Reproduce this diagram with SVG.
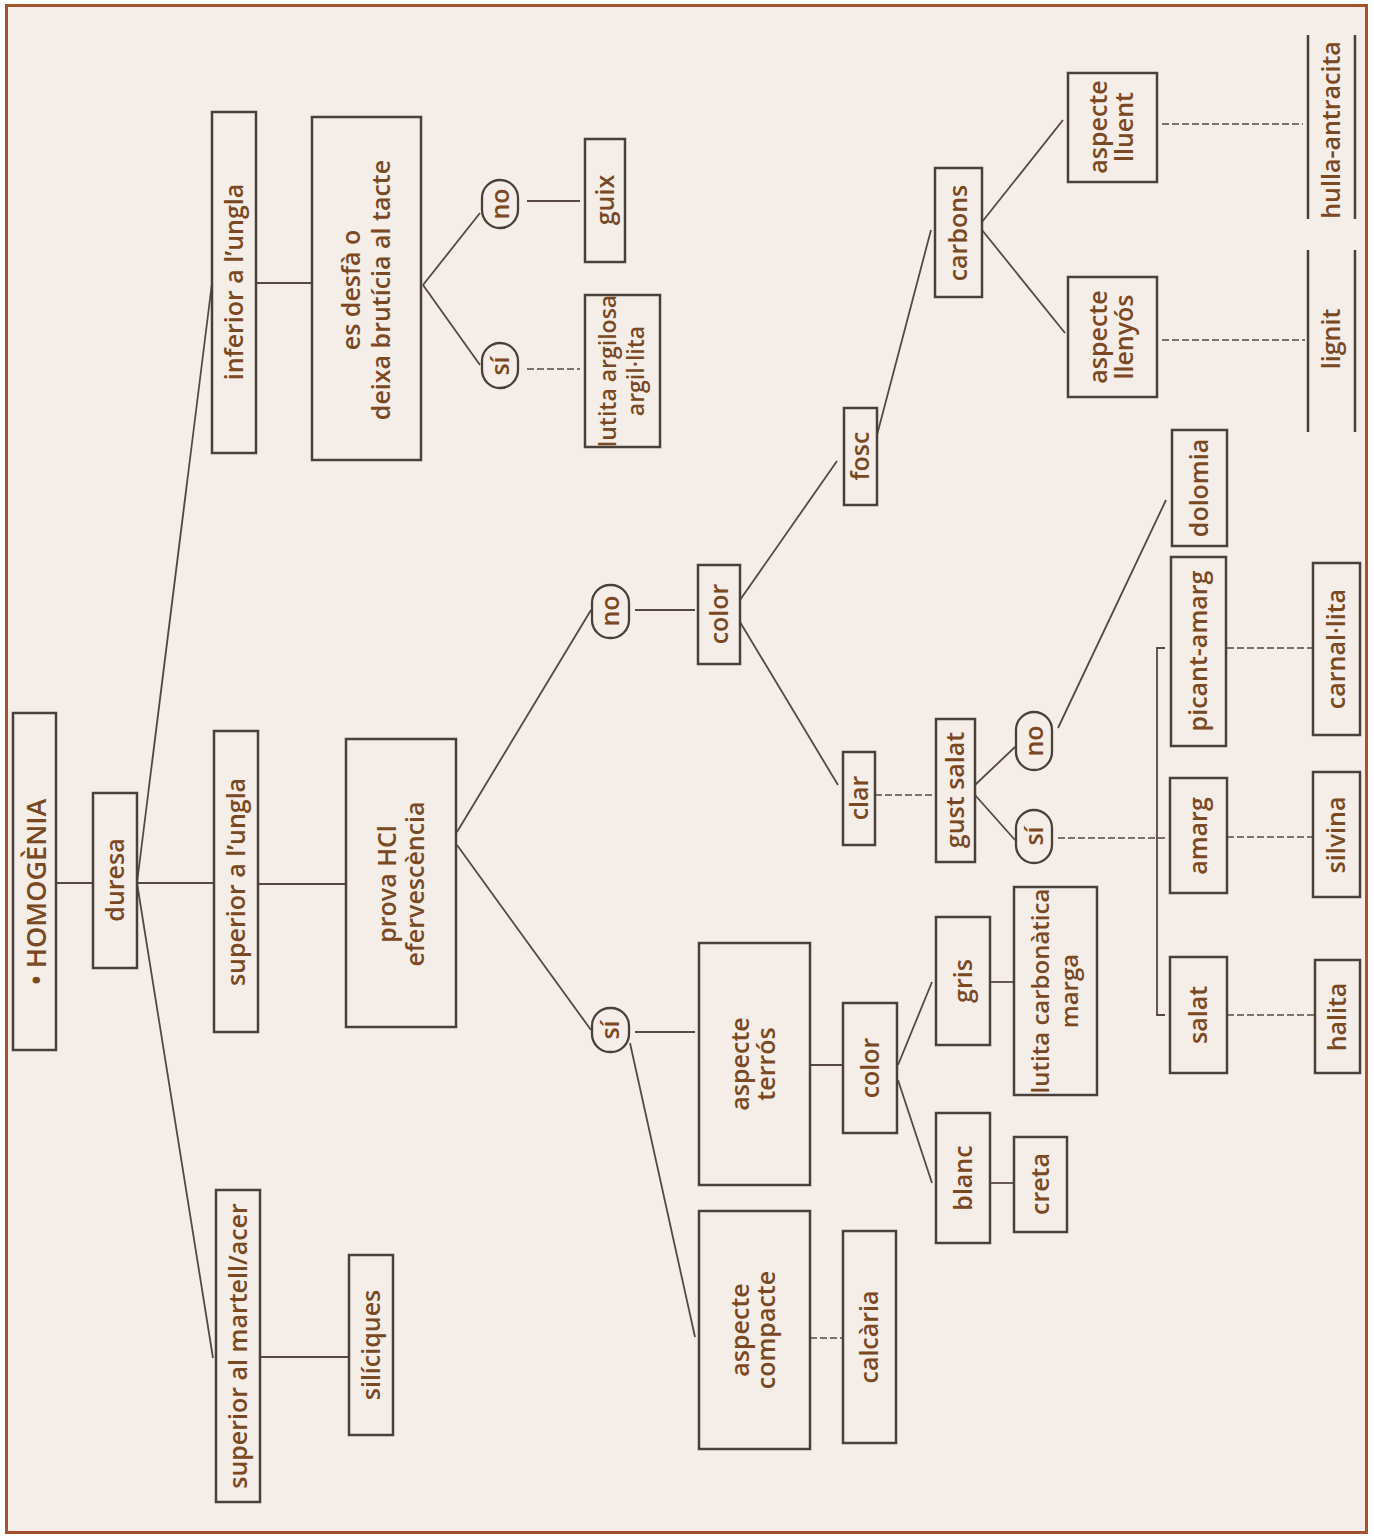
<svg xmlns="http://www.w3.org/2000/svg" width="1374" height="1538" viewBox="0 0 1374 1538">
<style>
.box{fill:none;stroke:#4a403a;stroke-width:2.5}
.oval{fill:none;stroke:#4a403a;stroke-width:2.3}
.t{font-family:"Open Sans","Liberation Sans",sans-serif;font-size:25px;font-weight:600;fill:#7a4822;text-anchor:middle}
.c{fill:none;stroke:#564840;stroke-width:1.8}
.d{fill:none;stroke:#564840;stroke-width:1.6;stroke-dasharray:7 3}
</style>
<rect x="0" y="0" width="1374" height="1538" fill="#ffffff"/>
<rect x="6.5" y="5.5" width="1360" height="1527" fill="#f5ede8" stroke="#a4522b" stroke-width="3"/>

<g id="connectors">
<path class="c" d="M56 883H93"/>
<path class="c" d="M137 883H214"/>
<path class="c" d="M258 884H346"/>
<path class="c" d="M137 883L212 283"/>
<path class="c" d="M137 883L213 1358"/>
<path class="c" d="M256 283H312"/>
<path class="c" d="M423 285L480 213"/>
<path class="c" d="M423 285L480 365"/>
<path class="c" d="M527 201H580"/>
<path class="d" d="M527 369H580"/>
<path class="c" d="M260 1357H349"/>
<path class="c" d="M457 832L591 610"/>
<path class="c" d="M457 845L591 1030"/>
<path class="c" d="M635 610H695"/>
<path class="c" d="M635 1032H695"/>
<path class="c" d="M630 1043L695 1337"/>
<path class="d" d="M810 1338H843"/>
<path class="c" d="M810 1065H843"/>
<path class="c" d="M898 1065L932 982"/>
<path class="c" d="M898 1080L932 1183"/>
<path class="c" d="M990 982H1014"/>
<path class="c" d="M990 1183H1014"/>
<path class="c" d="M740 600L837 461"/>
<path class="c" d="M740 622L838 785"/>
<path class="d" d="M875 795H936"/>
<path class="c" d="M975 785L1015 747"/>
<path class="c" d="M975 795L1015 840"/>
<path class="c" d="M1058 728L1166 500"/>
<path class="d" d="M1058 838H1167"/>
<path class="c" d="M1165 648H1157V1015H1165"/>
<path class="d" d="M1227 648H1313"/>
<path class="d" d="M1227 837H1313"/>
<path class="d" d="M1227 1015H1315"/>
<path class="c" d="M877 435L931 230"/>
<path class="c" d="M982 222L1063 120"/>
<path class="c" d="M982 230L1065 333"/>
<path class="d" d="M1162 124H1303"/>
<path class="d" d="M1162 340H1305"/>
</g>

<g id="homogenia"><rect class="box" x="13" y="713" width="43" height="337"/><text class="t" style="font-size:27px" transform="translate(37 892) rotate(-90)" dy="0.35em">• HOMOGÈNIA</text></g>
<g id="duresa"><rect class="box" x="93" y="793" width="44" height="175"/><text class="t" transform="translate(115 880) rotate(-90)" dy="0.35em">duresa</text></g>
<g id="superior-ungla"><rect class="box" x="214" y="731" width="44" height="301"/><text class="t" transform="translate(236 882) rotate(-90)" dy="0.35em">superior a l’ungla</text></g>
<g id="prova-hcl"><rect class="box" x="346" y="739" width="110" height="288"/><text class="t" transform="translate(401 884) rotate(-90)"><tspan x="0" dy="-0.22em">prova HCl</tspan><tspan x="0" dy="1.12em">efervescència</tspan></text></g>
<g id="inferior-ungla"><rect class="box" x="212" y="112" width="44" height="341"/><text class="t" transform="translate(234 282) rotate(-90)" dy="0.35em">inferior a l’ungla</text></g>
<g id="es-desfa"><rect class="box" x="312" y="117" width="109" height="343"/><text class="t" transform="translate(366 290) rotate(-90)"><tspan x="0" dy="-0.25em">es desfà o</tspan><tspan x="0" dy="1.2em">deixa brutícia al tacte</tspan></text></g>
<g id="si-1"><rect class="oval" x="482" y="343" width="36" height="45" rx="18" ry="18"/><text class="t" transform="translate(500 366) rotate(-90)" dy="0.35em">sí</text></g>
<g id="no-1"><rect class="oval" x="482" y="180" width="36" height="48" rx="18" ry="18"/><text class="t" transform="translate(500 204) rotate(-90)" dy="0.35em">no</text></g>
<g id="guix"><rect class="box" x="585" y="139" width="40" height="123"/><text class="t" transform="translate(605 200) rotate(-90)" dy="0.35em">guix</text></g>
<g id="lutita-argilosa"><rect class="box" x="585" y="295" width="75" height="152"/><text class="t" style="font-size:23px" transform="translate(622 371) rotate(-90)"><tspan x="0" dy="-0.25em">lutita argilosa</tspan><tspan x="0" dy="1.2em">argil·lita</tspan></text></g>
<g id="superior-martell"><rect class="box" x="216" y="1190" width="44" height="312"/><text class="t" transform="translate(238 1346) rotate(-90)" dy="0.35em">superior al martell/acer</text></g>
<g id="siliciques"><rect class="box" x="349" y="1255" width="44" height="180"/><text class="t" transform="translate(371 1345) rotate(-90)" dy="0.35em">silíciques</text></g>
<g id="si-2"><rect class="oval" x="592" y="1008" width="37" height="44" rx="18" ry="18"/><text class="t" transform="translate(610 1030) rotate(-90)" dy="0.35em">sí</text></g>
<g id="no-2"><rect class="oval" x="592" y="585" width="37" height="53" rx="18" ry="18"/><text class="t" transform="translate(610 611) rotate(-90)" dy="0.35em">no</text></g>
<g id="color-1"><rect class="box" x="698" y="565" width="42" height="99"/><text class="t" transform="translate(719 614) rotate(-90)" dy="0.35em">color</text></g>
<g id="aspecte-terros"><rect class="box" x="699" y="943" width="111" height="242"/><text class="t" transform="translate(754 1064) rotate(-90)"><tspan x="0" dy="-0.2em">aspecte</tspan><tspan x="0" dy="1.05em">terrós</tspan></text></g>
<g id="aspecte-compacte"><rect class="box" x="699" y="1211" width="111" height="238"/><text class="t" transform="translate(754 1330) rotate(-90)"><tspan x="0" dy="-0.2em">aspecte</tspan><tspan x="0" dy="1.05em">compacte</tspan></text></g>
<g id="calcaria"><rect class="box" x="843" y="1231" width="53" height="212"/><text class="t" transform="translate(869 1337) rotate(-90)" dy="0.35em">calcària</text></g>
<g id="color-2"><rect class="box" x="843" y="1003" width="54" height="130"/><text class="t" transform="translate(870 1068) rotate(-90)" dy="0.35em">color</text></g>
<g id="gris"><rect class="box" x="936" y="917" width="54" height="128"/><text class="t" transform="translate(963 981) rotate(-90)" dy="0.35em">gris</text></g>
<g id="blanc"><rect class="box" x="936" y="1113" width="54" height="130"/><text class="t" transform="translate(963 1178) rotate(-90)" dy="0.35em">blanc</text></g>
<g id="lutita-carbonatica"><rect class="box" x="1014" y="887" width="83" height="208"/><text class="t" style="font-size:24px" transform="translate(1055 991) rotate(-90)"><tspan x="0" dy="-0.25em">lutita carbonàtica</tspan><tspan x="0" dy="1.2em">marga</tspan></text></g>
<g id="creta"><rect class="box" x="1014" y="1137" width="53" height="95"/><text class="t" transform="translate(1040 1184) rotate(-90)" dy="0.35em">creta</text></g>
<g id="fosc"><rect class="box" x="844" y="408" width="33" height="97"/><text class="t" transform="translate(860 456) rotate(-90)" dy="0.35em">fosc</text></g>
<g id="clar"><rect class="box" x="843" y="752" width="32" height="93"/><text class="t" transform="translate(859 798) rotate(-90)" dy="0.35em">clar</text></g>
<g id="gust-salat"><rect class="box" x="936" y="719" width="39" height="143"/><text class="t" transform="translate(955 790) rotate(-90)" dy="0.35em">gust salat</text></g>
<g id="no-3"><rect class="oval" x="1016" y="712" width="36" height="58" rx="18" ry="18"/><text class="t" transform="translate(1034 741) rotate(-90)" dy="0.35em">no</text></g>
<g id="si-3"><rect class="oval" x="1016" y="810" width="36" height="53" rx="18" ry="18"/><text class="t" transform="translate(1034 836) rotate(-90)" dy="0.35em">sí</text></g>
<g id="dolomia"><rect class="box" x="1172" y="430" width="55" height="116"/><text class="t" transform="translate(1199 488) rotate(-90)" dy="0.35em">dolomia</text></g>
<g id="picant-amarg"><rect class="box" x="1171" y="557" width="55" height="189"/><text class="t" transform="translate(1198 651) rotate(-90)" dy="0.35em">picant-amarg</text></g>
<g id="amarg"><rect class="box" x="1170" y="778" width="57" height="115"/><text class="t" transform="translate(1198 836) rotate(-90)" dy="0.35em">amarg</text></g>
<g id="salat"><rect class="box" x="1170" y="957" width="57" height="116"/><text class="t" transform="translate(1198 1015) rotate(-90)" dy="0.35em">salat</text></g>
<g id="carnallita"><rect class="box" x="1313" y="563" width="47" height="172"/><text class="t" transform="translate(1336 649) rotate(-90)" dy="0.35em">carnal·lita</text></g>
<g id="silvina"><rect class="box" x="1313" y="772" width="47" height="125"/><text class="t" transform="translate(1336 835) rotate(-90)" dy="0.35em">silvina</text></g>
<g id="halita"><rect class="box" x="1315" y="960" width="45" height="113"/><text class="t" transform="translate(1337 1017) rotate(-90)" dy="0.35em">halita</text></g>
<g id="carbons"><rect class="box" x="935" y="168" width="47" height="129"/><text class="t" transform="translate(958 233) rotate(-90)" dy="0.35em">carbons</text></g>
<g id="aspecte-lluent"><rect class="box" x="1068" y="73" width="89" height="109"/><text class="t" transform="translate(1112 127) rotate(-90)"><tspan x="0" dy="-0.2em">aspecte</tspan><tspan x="0" dy="1.05em">lluent</tspan></text></g>
<g id="aspecte-llenyos"><rect class="box" x="1068" y="277" width="89" height="120"/><text class="t" transform="translate(1112 337) rotate(-90)"><tspan x="0" dy="-0.2em">aspecte</tspan><tspan x="0" dy="1.05em">llenyós</tspan></text></g>
<g id="hulla-antracita"><path class="box" d="M1308 35V219M1355 35V219"/><text class="t" transform="translate(1331 130) rotate(-90)" dy="0.35em">hulla-antracita</text></g>
<g id="lignit"><path class="box" d="M1308 250V432M1355 250V432"/><text class="t" transform="translate(1331 339) rotate(-90)" dy="0.35em">lignit</text></g>
</svg>
